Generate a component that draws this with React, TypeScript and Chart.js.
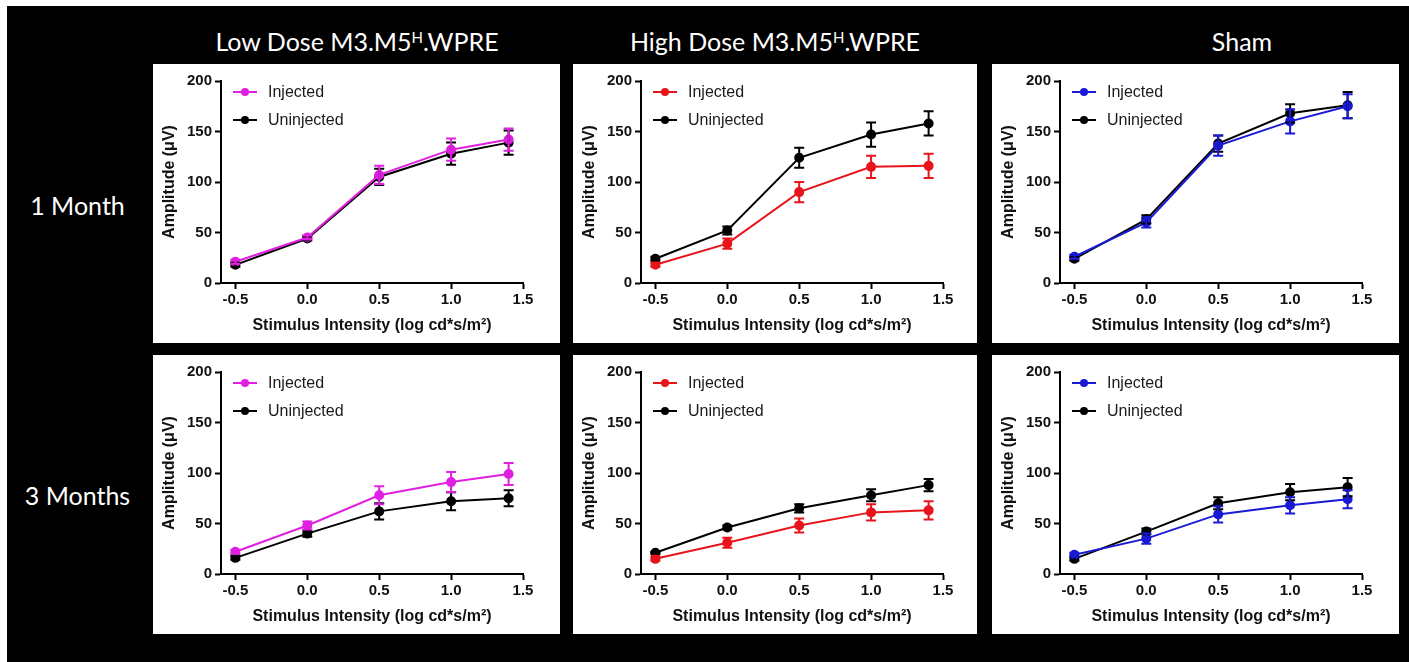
import React, { useEffect, useRef } from 'react';
import { Chart, registerables } from 'chart.js';

Chart.register(...registerables);

// ---------- data ----------
const xValues = [-0.5, 0.0, 0.5, 1.0, 1.4];
const xTicks = [-0.5, 0.0, 0.5, 1.0, 1.5];
const yTicks = [0, 50, 100, 150, 200];
const seriesLabels = ['Injected', 'Uninjected'];
const columnTitles = ['Low Dose M3.M5', 'High Dose M3.M5', 'Sham'];
const rowLabels = ['1 Month', '3 Months'];
const xAxisTitle = 'Stimulus Intensity (log cd*s/m\u00B2)';
const yAxisTitle = 'Amplitude (\u03BCV)';

// Low dose, 1 month
const low1Inj = [21, 45, 107, 132, 142];
const low1InjErr = [2, 2, 9, 11, 11];
const low1Un = [18, 44, 105, 128, 139];
const low1UnErr = [2, 2, 8, 11, 12];
// High dose, 1 month
const high1Inj = [18, 39, 90, 115, 116];
const high1InjErr = [2, 5, 10, 11, 12];
const high1Un = [24, 52, 124, 147, 158];
const high1UnErr = [2, 4, 10, 12, 12];
// Sham, 1 month
const sham1Inj = [26, 60, 136, 160, 175];
const sham1InjErr = [2, 5, 10, 12, 12];
const sham1Un = [24, 63, 138, 168, 176];
const sham1UnErr = [2, 4, 8, 9, 13];
// Low dose, 3 months
const low3Inj = [22, 48, 78, 91, 99];
const low3InjErr = [2, 4, 9, 10, 11];
const low3Un = [16, 40, 62, 72, 75];
const low3UnErr = [2, 3, 8, 9, 8];
// High dose, 3 months
const high3Inj = [15, 31, 48, 61, 63];
const high3InjErr = [2, 5, 7, 8, 9];
const high3Un = [21, 46, 65, 78, 88];
const high3UnErr = [1, 2, 4, 6, 6];
// Sham, 3 months
const sham3Inj = [19, 35, 59, 68, 74];
const sham3InjErr = [2, 5, 8, 8, 9];
const sham3Un = [15, 42, 70, 81, 86];
const sham3UnErr = [2, 3, 6, 8, 9];

const MAGENTA = '#e020e0';
const RED = '#e8141c';
const BLUE = '#1a1ad6';
const BLACK = '#000000';

const panels = [
  { inj: low1Inj, injErr: low1InjErr, un: low1Un, unErr: low1UnErr, color: MAGENTA },
  { inj: high1Inj, injErr: high1InjErr, un: high1Un, unErr: high1UnErr, color: RED },
  { inj: sham1Inj, injErr: sham1InjErr, un: sham1Un, unErr: sham1UnErr, color: BLUE },
  { inj: low3Inj, injErr: low3InjErr, un: low3Un, unErr: low3UnErr, color: MAGENTA },
  { inj: high3Inj, injErr: high3InjErr, un: high3Un, unErr: high3UnErr, color: RED },
  { inj: sham3Inj, injErr: sham3InjErr, un: sham3Un, unErr: sham3UnErr, color: BLUE },
];

// ---------- layout ----------
const colLefts = [153, 573, 992];
const colWidths = [407, 404, 407];
const rowTops = [64, 355];
const rowHeight = 279;
const FONT = '"Liberation Sans", Arial, sans-serif';

const errorBarPlugin = {
  id: 'errorBars',
  afterDatasetsDraw(chart: any) {
    const ctx = chart.ctx;
    const xs = chart.scales.x;
    const ys = chart.scales.y;
    const n = chart.data.datasets.length;
    for (let d = n - 1; d >= 0; d--) {
      const ds: any = chart.data.datasets[d];
      const errs: number[] = ds.errors;
      ctx.save();
      ctx.strokeStyle = ds.borderColor;
      ctx.lineWidth = 2;
      ds.data.forEach((p: any, i: number) => {
        const px = xs.getPixelForValue(p.x);
        const top = ys.getPixelForValue(p.y + errs[i]);
        const bot = ys.getPixelForValue(p.y - errs[i]);
        ctx.beginPath();
        ctx.moveTo(px, top);
        ctx.lineTo(px, bot);
        ctx.moveTo(px - 5, top);
        ctx.lineTo(px + 5, top);
        ctx.moveTo(px - 5, bot);
        ctx.lineTo(px + 5, bot);
        ctx.stroke();
      });
      ctx.restore();
    }
  },
};

const legendPlugin = {
  id: 'customLegend',
  afterDraw(chart: any) {
    const ctx = chart.ctx;
    const { left, top } = chart.chartArea;
    chart.data.datasets.forEach((ds: any, i: number) => {
      const y = top + 11 + i * 28;
      const x0 = left + 12;
      const x1 = left + 36;
      ctx.save();
      ctx.strokeStyle = ds.borderColor;
      ctx.lineWidth = 2;
      ctx.beginPath();
      ctx.moveTo(x0, y);
      ctx.lineTo(x1, y);
      ctx.stroke();
      ctx.fillStyle = ds.borderColor;
      ctx.beginPath();
      ctx.arc((x0 + x1) / 2, y, 4, 0, Math.PI * 2);
      ctx.fill();
      ctx.fillStyle = '#1a1a1a';
      ctx.font = `16px ${FONT}`;
      ctx.textAlign = 'left';
      ctx.textBaseline = 'middle';
      ctx.fillText(ds.label, left + 47, y + 1);
      ctx.restore();
    });
  },
};

function Panel({ cfg, width, height }: { cfg: any; width: number; height: number }) {
  const ref = useRef<HTMLCanvasElement>(null);
  useEffect(() => {
    const mk = (vals: number[]) => xValues.map((x, i) => ({ x, y: vals[i] }));
    const tickFont = { family: FONT, size: 15, weight: 'bold' as const };
    const chart = new Chart(ref.current as HTMLCanvasElement, {
      type: 'line',
      data: {
        datasets: [
          {
            label: seriesLabels[0],
            data: mk(cfg.inj),
            errors: cfg.injErr,
            borderColor: cfg.color,
            backgroundColor: cfg.color,
            pointBackgroundColor: cfg.color,
            pointBorderColor: cfg.color,
            pointRadius: 4,
            borderWidth: 2,
            tension: 0,
          } as any,
          {
            label: seriesLabels[1],
            data: mk(cfg.un),
            errors: cfg.unErr,
            borderColor: BLACK,
            backgroundColor: BLACK,
            pointBackgroundColor: BLACK,
            pointBorderColor: BLACK,
            pointRadius: 4,
            borderWidth: 2,
            tension: 0,
          } as any,
        ],
      },
      options: {
        responsive: false,
        animation: false,
        layout: { padding: { left: 0, top: 17, right: width - 370, bottom: 0 } },
        plugins: { legend: { display: false }, tooltip: { enabled: false } },
        scales: {
          x: {
            type: 'linear',
            min: -0.6,
            max: 1.5,
            afterBuildTicks: (s: any) => {
              s.ticks = xTicks.map((v) => ({ value: v }));
            },
            afterFit: (s: any) => {
              s.height = 60;
            },
            ticks: {
              font: tickFont,
              color: '#111',
              padding: 2,
              maxRotation: 0,
              autoSkip: false,
              callback: (v: any) => Number(v).toFixed(1),
            },
            grid: { drawOnChartArea: false, drawTicks: true, tickLength: 6, tickColor: '#000', tickWidth: 2 },
            border: { display: true, color: '#000', width: 2 },
            title: {
              display: true,
              text: xAxisTitle,
              color: '#111',
              font: { family: FONT, size: 16, weight: 'bold' },
              padding: { top: 0, bottom: 8 },
            },
          },
          y: {
            type: 'linear',
            min: 0,
            max: 200,
            afterBuildTicks: (s: any) => {
              s.ticks = yTicks.map((v) => ({ value: v }));
            },
            afterFit: (s: any) => {
              s.width = 68;
            },
            ticks: { font: tickFont, color: '#111', padding: 3 },
            grid: { drawOnChartArea: false, drawTicks: true, tickLength: 6, tickColor: '#000', tickWidth: 2 },
            border: { display: true, color: '#000', width: 2 },
            title: {
              display: true,
              text: yAxisTitle,
              color: '#111',
              font: { family: FONT, size: 16, weight: 'bold' },
              padding: { top: 7, bottom: 0 },
            },
          },
        },
      } as any,
      plugins: [errorBarPlugin, legendPlugin],
    });
    return () => chart.destroy();
  }, []);
  return <canvas ref={ref} width={width} height={height} style={{ display: 'block' }} />;
}

const titleCenters = [357, 775, 1242];
const rowCenters = [205, 495];

export default function App() {
  const titleStyle = (cx: number): React.CSSProperties => ({
    position: 'absolute',
    left: cx - 250,
    width: 500,
    top: 25,
    height: 32,
    lineHeight: '32px',
    textAlign: 'center',
    color: '#fff',
    fontFamily: 'Lato, "Open Sans", sans-serif',
    fontSize: 25,
    whiteSpace: 'nowrap',
  });
  const supStyle: React.CSSProperties = { fontSize: '0.6em', verticalAlign: '0.55em', lineHeight: 0 };
  return (
    <div style={{ position: 'fixed', left: 0, top: 0, width: 1409, height: 662, background: '#fff', overflow: 'hidden' }}>
      <div style={{ position: 'absolute', left: 7, top: 6, width: 1402, height: 656, background: '#000' }} />
      {columnTitles.map((t, i) => (
        <div key={t} style={titleStyle(titleCenters[i])}>
          {i < 2 ? (
            <>
              {t}
              <span style={supStyle}>H</span>.WPRE
            </>
          ) : (
            t
          )}
        </div>
      ))}
      {rowLabels.map((r, i) => (
        <div
          key={r}
          style={{
            position: 'absolute',
            left: 0,
            width: 155,
            top: rowCenters[i] - 16,
            height: 32,
            lineHeight: '32px',
            textAlign: 'center',
            color: '#fff',
            fontFamily: 'Lato, "Open Sans", sans-serif',
            fontSize: 25,
            whiteSpace: 'nowrap',
          }}
        >
          {r}
        </div>
      ))}
      {panels.map((p, i) => {
        const col = i % 3;
        const row = Math.floor(i / 3);
        return (
          <div
            key={i}
            style={{
              position: 'absolute',
              left: colLefts[col],
              top: rowTops[row],
              width: colWidths[col],
              height: rowHeight,
              background: '#fff',
            }}
          >
            <Panel cfg={p} width={colWidths[col]} height={rowHeight} />
          </div>
        );
      })}
    </div>
  );
}
